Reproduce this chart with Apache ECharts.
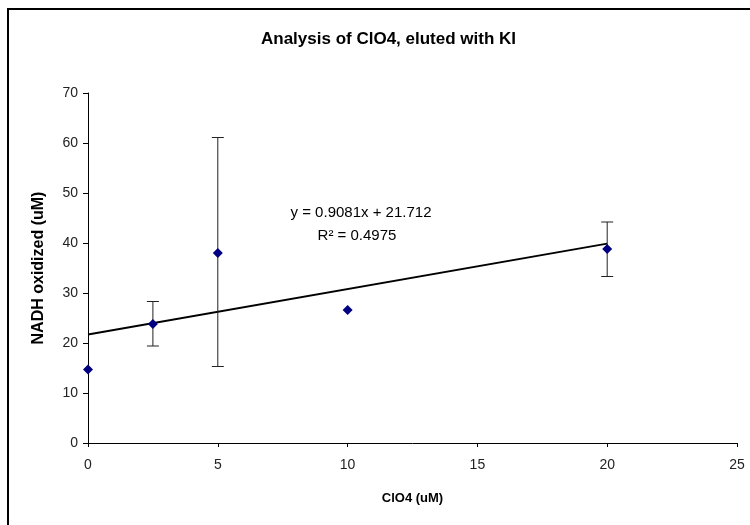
<!DOCTYPE html>
<html><head><meta charset="utf-8">
<script src="https://cdn.jsdelivr.net/npm/echarts@6/dist/echarts.min.js"></script>
<style>html,body{margin:0;padding:0;background:#fff}#c{width:750px;height:525px}</style>
</head><body><div id="c"></div>
<script>
const xValues = [0, 2.5, 5, 10, 20];
const yValues = [14.7, 23.8, 38.0, 26.6, 38.8];
const errLow = [null, 19.4, 15.3, null, 33.3];
const errHigh = [null, 28.3, 61.1, null, 44.2];
const trendSlope = 0.9081;
const trendIntercept = 21.712;
const trendX = [0, 20];
const xTicks = [0, 5, 10, 15, 20, 25];
const yTicks = [0, 10, 20, 30, 40, 50, 60, 70];
const titleText = 'Analysis of ClO4, eluted with KI';
const xName = 'ClO4 (uM)';
const yName = 'NADH oxidized (uM)';
const eqText = 'y = 0.9081x + 21.712';
const r2Text = 'R\u00B2 = 0.4975';

const pts = xValues.map((x, i) => [x, yValues[i]]);
const errData = xValues.map((x, i) => [x, errLow[i], errHigh[i]]).filter(d => d[1] != null);
const trendData = trendX.map(x => [x, trendSlope * x + trendIntercept]);

const chart = echarts.init(document.getElementById('c'));
const font = '"Liberation Sans", Arial, sans-serif';
chart.setOption({
  backgroundColor: '#fff',
  animation: false,
  title: {
    text: titleText, left: 256, top: 26,
    textStyle: { fontFamily: font, fontSize: 17, fontWeight: 'bold', color: '#000' }
  },
  grid: { left: 88, right: 13, top: 93, bottom: 82 },
  xAxis: {
    type: 'value', min: xTicks[0], max: xTicks[xTicks.length - 1], interval: 5,
    name: xName, nameLocation: 'middle', nameGap: 49,
    nameTextStyle: { fontFamily: font, fontSize: 13, fontWeight: 'bold', color: '#000' },
    axisLine: { lineStyle: { color: '#000', width: 1 } },
    axisTick: { length: 4, lineStyle: { color: '#000' } },
    axisLabel: { fontFamily: font, fontSize: 14, color: '#222', margin: 15 },
    splitLine: { show: false }
  },
  yAxis: {
    type: 'value', min: yTicks[0], max: yTicks[yTicks.length - 1], interval: 10,
    name: yName, nameLocation: 'middle', nameGap: 41, nameRotate: 90,
    nameTextStyle: { fontFamily: font, fontSize: 16, fontWeight: 'bold', color: '#000' },
    axisLine: { show: true, lineStyle: { color: '#000', width: 1 } },
    axisTick: { show: true, length: 5, lineStyle: { color: '#000' } },
    axisLabel: { fontFamily: font, fontSize: 14, color: '#222', margin: 10 },
    splitLine: { show: false }
  },
  graphic: [
    { type: 'rect', shape: { x: 8, y: 9, width: 745, height: 520 }, style: { fill: 'none', stroke: '#000', lineWidth: 2 }, z: 100 },
    { type: 'text', x: 361, y: 213, style: { text: eqText, font: '15px ' + font, fill: '#000', textAlign: 'center', textVerticalAlign: 'middle' } },
    { type: 'text', x: 357, y: 236, style: { text: r2Text, font: '15px ' + font, fill: '#000', textAlign: 'center', textVerticalAlign: 'middle' } }
  ],
  series: [
    {
      type: 'line', data: trendData, symbol: 'none',
      lineStyle: { color: '#000', width: 2 }, z: 2
    },
    {
      type: 'custom', data: errData, z: 3,
      renderItem: function (params, api) {
        const x = api.value(0);
        const lo = api.coord([x, api.value(1)]);
        const hi = api.coord([x, api.value(2)]);
        const w = 6;
        const st = { stroke: '#222', lineWidth: 1 };
        return { type: 'group', children: [
          { type: 'line', shape: { x1: lo[0], y1: lo[1], x2: hi[0], y2: hi[1] }, style: st },
          { type: 'line', shape: { x1: lo[0] - w, y1: lo[1], x2: lo[0] + w, y2: lo[1] }, style: st },
          { type: 'line', shape: { x1: hi[0] - w, y1: hi[1], x2: hi[0] + w, y2: hi[1] }, style: st }
        ]};
      }
    },
    {
      type: 'scatter', data: pts, symbol: 'diamond', symbolSize: 10,
      itemStyle: { color: '#000080', opacity: 1 }, z: 4
    }
  ]
});
</script></body></html>
